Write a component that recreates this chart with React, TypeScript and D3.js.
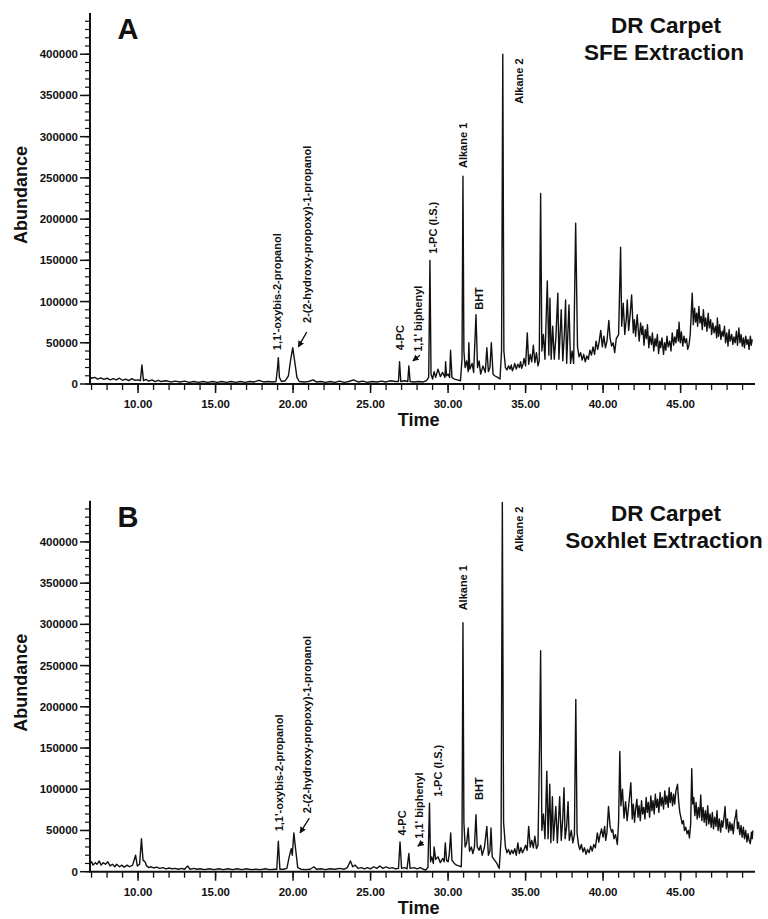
import React from "react";
import * as d3 from "d3";

// ---------- data (time in min, abundance in thousands) ----------
const timeDomain: [number, number] = [6.9, 49.8];
const abundanceMaxK = 450;
const yMajorTicks = [0, 50000, 100000, 150000, 200000, 250000, 300000, 350000, 400000];
const xMajorTicks = [10, 15, 20, 25, 30, 35, 40, 45];

const sfeTrace: [number, number][] = [
  [6.9, 9], [7.0, 7], [7.2, 8], [7.4, 6], [7.6, 7.5], [7.8, 5.5], [8.0, 7], [8.2, 5], [8.4, 6.5], [8.6, 5],
  [8.8, 7], [9.0, 4.5], [9.2, 6], [9.4, 4], [9.6, 6.5], [9.8, 4.5], [10.0, 5], [10.15, 4], [10.25, 23], [10.35, 4],
  [10.5, 5.5], [10.7, 3.5], [10.9, 5], [11.1, 3], [11.3, 4.5], [11.5, 3], [11.8, 4], [12.1, 2.5], [12.4, 3.5], [12.7, 2.5],
  [13.0, 3.5], [13.3, 2], [13.6, 3], [13.9, 2], [14.2, 3], [14.5, 2], [14.8, 3], [15.1, 2], [15.4, 3], [15.7, 2],
  [16.0, 3], [16.3, 2], [16.6, 3], [16.9, 2], [17.2, 3], [17.5, 2.5], [17.8, 4.5], [18.1, 2.5], [18.4, 3], [18.7, 2.5],
  [18.9, 3], [19.0, 20], [19.05, 32], [19.12, 8], [19.25, 3], [19.5, 4], [19.7, 10], [19.85, 30], [19.98, 44], [20.1, 28],
  [20.25, 8], [20.4, 3], [20.7, 2.5], [21.0, 3], [21.3, 5], [21.5, 2.5], [21.8, 3], [22.1, 2], [22.4, 3], [22.7, 2],
  [23.0, 3.5], [23.3, 2], [23.6, 3], [23.9, 5], [24.2, 2.5], [24.5, 3.5], [24.8, 2], [25.1, 3], [25.4, 2.5], [25.7, 3.5],
  [26.0, 2.5], [26.3, 4], [26.6, 3], [26.8, 3], [26.87, 27], [26.95, 3], [27.2, 4], [27.4, 3], [27.47, 22], [27.55, 3],
  [27.8, 2.5], [28.1, 3], [28.4, 2.5], [28.6, 4], [28.75, 8], [28.83, 150], [28.9, 12], [29.0, 6], [29.1, 15], [29.2, 8],
  [29.35, 18], [29.5, 9], [29.65, 14], [29.8, 8], [29.84, 27], [29.9, 10], [30.0, 12], [30.1, 8], [30.16, 41], [30.25, 8],
  [30.4, 6], [30.6, 5], [30.8, 4], [30.9, 30], [30.96, 252], [31.02, 40], [31.1, 20], [31.2, 28], [31.3, 15], [31.34, 50],
  [31.4, 18], [31.55, 25], [31.65, 14], [31.8, 84], [31.9, 20], [32.0, 28], [32.1, 12], [32.25, 22], [32.4, 14], [32.5, 44],
  [32.6, 15], [32.7, 20], [32.79, 50], [32.9, 12], [33.0, 10], [33.2, 8], [33.35, 6], [33.45, 40], [33.53, 400], [33.6, 40],
  [33.7, 20], [33.8, 17], [33.9, 22], [34.0, 18], [34.08, 23], [34.15, 16], [34.25, 21], [34.3, 25], [34.4, 18], [34.5, 24],
  [34.6, 20], [34.68, 27], [34.75, 19], [34.85, 25], [34.9, 31], [35.0, 22], [35.11, 62], [35.2, 24], [35.3, 36], [35.4, 27],
  [35.5, 47], [35.6, 26], [35.7, 38], [35.8, 22], [35.88, 28], [35.97, 231], [36.05, 40], [36.15, 60], [36.25, 30], [36.4, 125],
  [36.5, 35], [36.57, 104], [36.65, 30], [36.75, 70], [36.85, 30], [36.95, 55], [37.08, 110], [37.15, 30], [37.3, 90], [37.4, 28],
  [37.5, 60], [37.58, 102], [37.65, 25], [37.8, 96], [37.9, 25], [38.0, 40], [38.1, 25], [38.23, 195], [38.35, 45], [38.45, 33],
  [38.55, 38], [38.65, 29], [38.75, 36], [38.85, 27], [38.95, 34], [39.05, 30], [39.15, 41], [39.25, 35], [39.35, 45], [39.45, 36],
  [39.55, 52], [39.65, 42], [39.72, 48], [39.85, 65], [39.95, 45], [40.05, 58], [40.15, 44], [40.25, 52], [40.37, 77], [40.45, 56],
  [40.55, 46], [40.65, 50], [40.75, 38], [40.85, 55], [41.0, 60], [41.13, 166], [41.2, 70], [41.3, 98], [41.4, 60], [41.5, 80],
  [41.56, 102], [41.65, 65], [41.75, 85], [41.84, 108], [41.95, 62], [42.02, 78], [42.1, 58], [42.2, 84], [42.27, 66], [42.33, 52],
  [42.42, 74], [42.5, 60], [42.56, 70], [42.64, 47], [42.72, 66], [42.8, 55], [42.86, 72], [42.95, 44], [43.02, 58], [43.12, 48],
  [43.18, 62], [43.27, 40], [43.35, 55], [43.42, 46], [43.5, 60], [43.58, 37], [43.66, 52], [43.72, 44], [43.8, 56], [43.9, 36],
  [43.97, 50], [44.05, 41], [44.12, 58], [44.2, 45], [44.3, 52], [44.38, 40], [44.46, 62], [44.55, 47], [44.62, 57], [44.7, 50],
  [44.78, 66], [44.86, 52], [44.9, 75], [44.98, 50], [45.05, 63], [45.14, 46], [45.22, 58], [45.3, 50], [45.38, 55], [45.46, 42],
  [45.55, 48], [45.62, 60], [45.75, 110], [45.82, 72], [45.9, 92], [45.97, 75], [46.04, 86], [46.1, 70], [46.18, 94], [46.25, 74],
  [46.33, 82], [46.4, 66], [46.47, 90], [46.55, 70], [46.62, 80], [46.7, 64], [46.78, 86], [46.85, 68], [46.94, 78], [47.0, 60],
  [47.08, 74], [47.16, 62], [47.25, 70], [47.33, 56], [47.37, 80], [47.45, 58], [47.52, 72], [47.6, 54], [47.68, 64], [47.75, 58],
  [47.83, 70], [47.9, 50], [47.98, 62], [48.06, 46], [48.13, 66], [48.2, 52], [48.3, 60], [48.37, 48], [48.44, 57], [48.52, 50],
  [48.6, 64], [48.67, 47], [48.76, 68], [48.83, 50], [48.9, 60], [48.98, 46], [49.05, 56], [49.12, 44], [49.2, 58], [49.28, 48],
  [49.35, 54], [49.42, 42], [49.5, 58], [49.56, 47], [49.62, 54],
];

const soxTrace: [number, number][] = [
  [6.9, 10], [7.0, 12], [7.1, 8], [7.25, 11], [7.35, 9], [7.5, 13], [7.62, 8], [7.75, 11], [7.9, 9], [8.05, 12],
  [8.2, 7], [8.35, 9], [8.5, 6], [8.62, 9], [8.8, 6], [8.95, 8], [9.1, 5.5], [9.3, 8], [9.45, 6], [9.65, 8],
  [9.84, 20], [9.95, 7], [10.1, 9], [10.22, 40], [10.32, 14], [10.45, 12], [10.55, 7], [10.7, 5], [10.85, 6], [11.0, 4.5],
  [11.2, 5.5], [11.4, 4], [11.6, 5], [11.8, 3.5], [12.0, 4.5], [12.2, 3.5], [12.4, 4], [12.6, 3], [12.8, 4], [13.0, 3],
  [13.2, 7], [13.35, 3], [13.6, 4], [13.8, 3], [14.0, 3.5], [14.3, 2.5], [14.6, 3.5], [14.9, 2.5], [15.2, 3.5], [15.5, 2.5],
  [15.8, 3.5], [16.1, 2.5], [16.4, 3.5], [16.7, 2.5], [17.0, 3.5], [17.3, 2.5], [17.6, 3], [17.9, 2.5], [18.2, 3.5], [18.5, 2.5],
  [18.8, 3], [18.95, 3], [19.05, 37], [19.15, 3], [19.4, 3], [19.6, 4], [19.75, 18], [19.88, 28], [19.95, 20], [20.05, 47],
  [20.15, 30], [20.3, 5], [20.5, 3], [20.8, 2.5], [21.1, 3], [21.35, 6], [21.5, 3], [21.8, 3.5], [22.1, 2.5], [22.4, 3.5],
  [22.7, 3], [23.0, 4], [23.3, 3], [23.5, 5], [23.7, 13], [23.85, 6], [24.0, 8], [24.2, 4], [24.4, 5], [24.6, 3.5],
  [24.8, 5], [25.0, 3.5], [25.2, 6], [25.4, 4], [25.6, 7], [25.8, 4], [26.0, 6], [26.2, 4], [26.4, 5], [26.6, 3.5],
  [26.8, 4], [26.9, 36], [27.0, 4], [27.2, 5], [27.35, 3.5], [27.47, 22], [27.55, 4], [27.8, 5], [28.0, 3.5], [28.2, 5],
  [28.4, 3], [28.55, 2], [28.7, 5], [28.8, 83], [28.87, 12], [28.95, 18], [29.05, 10], [29.1, 30], [29.2, 15], [29.35, 18],
  [29.5, 11], [29.65, 16], [29.75, 12], [29.82, 35], [29.9, 14], [30.0, 12], [30.08, 22], [30.17, 47], [30.25, 14], [30.4, 10],
  [30.55, 8], [30.7, 7], [30.85, 6], [30.9, 40], [30.96, 302], [31.02, 60], [31.1, 30], [31.2, 35], [31.3, 53], [31.38, 25],
  [31.5, 30], [31.6, 22], [31.7, 30], [31.8, 69], [31.88, 30], [32.0, 26], [32.1, 32], [32.2, 20], [32.35, 30], [32.5, 55],
  [32.6, 20], [32.7, 25], [32.77, 53], [32.85, 18], [33.0, 14], [33.15, 10], [33.3, 4], [33.42, 40], [33.5, 448], [33.58, 60],
  [33.7, 30], [33.8, 23], [33.9, 27], [34.0, 21], [34.1, 26], [34.2, 22], [34.3, 28], [34.4, 20], [34.5, 35], [34.6, 22],
  [34.7, 29], [34.8, 23], [34.9, 27], [35.0, 32], [35.1, 26], [35.2, 55], [35.3, 30], [35.4, 38], [35.5, 29], [35.6, 43],
  [35.7, 28], [35.8, 32], [35.9, 150], [35.97, 268], [36.05, 50], [36.15, 70], [36.25, 40], [36.37, 122], [36.45, 40], [36.56, 106],
  [36.63, 35], [36.73, 91], [36.8, 38], [36.88, 60], [36.95, 79], [37.05, 35], [37.12, 60], [37.2, 91], [37.3, 38], [37.4, 65],
  [37.48, 102], [37.55, 40], [37.65, 55], [37.74, 85], [37.82, 38], [37.95, 50], [38.05, 35], [38.15, 45], [38.24, 209], [38.32, 47],
  [38.42, 32], [38.5, 27], [38.6, 33], [38.7, 24], [38.8, 29], [38.9, 21], [39.0, 27], [39.1, 23], [39.2, 31], [39.3, 25],
  [39.4, 33], [39.5, 29], [39.63, 47], [39.72, 36], [39.8, 44], [39.9, 52], [40.0, 42], [40.1, 55], [40.17, 38], [40.25, 48],
  [40.35, 79], [40.45, 55], [40.55, 48], [40.62, 51], [40.7, 40], [40.8, 45], [40.92, 33], [41.0, 60], [41.08, 146], [41.15, 80],
  [41.25, 100], [41.35, 65], [41.45, 85], [41.55, 62], [41.65, 80], [41.79, 108], [41.88, 64], [41.95, 82], [42.03, 60], [42.1, 76],
  [42.18, 88], [42.25, 66], [42.32, 80], [42.4, 62], [42.48, 86], [42.55, 70], [42.62, 78], [42.7, 64], [42.78, 90], [42.85, 72],
  [42.92, 84], [43.0, 66], [43.08, 92], [43.15, 74], [43.22, 86], [43.3, 70], [43.37, 94], [43.45, 78], [43.52, 88], [43.6, 72],
  [43.68, 96], [43.75, 80], [43.82, 90], [43.9, 76], [43.98, 98], [44.05, 82], [44.12, 92], [44.2, 78], [44.26, 102], [44.33, 84],
  [44.4, 96], [44.48, 80], [44.55, 94], [44.62, 82], [44.7, 98], [44.8, 106], [44.88, 84], [44.95, 72], [45.02, 66], [45.1, 58],
  [45.18, 62], [45.25, 50], [45.33, 54], [45.42, 46], [45.5, 50], [45.57, 41], [45.65, 58], [45.72, 125], [45.78, 82], [45.85, 90],
  [45.92, 68], [46.0, 84], [46.07, 64], [46.15, 78], [46.22, 66], [46.3, 93], [46.37, 62], [46.45, 78], [46.52, 60], [46.6, 74],
  [46.67, 56], [46.75, 80], [46.82, 58], [46.9, 70], [46.97, 54], [47.05, 72], [47.12, 52], [47.2, 66], [47.28, 55], [47.35, 74],
  [47.42, 50], [47.5, 64], [47.58, 48], [47.65, 62], [47.72, 54], [47.8, 66], [47.87, 79], [47.94, 52], [48.02, 64], [48.1, 48],
  [48.18, 60], [48.25, 50], [48.32, 58], [48.4, 46], [48.48, 62], [48.55, 68], [48.6, 75], [48.67, 52], [48.74, 60], [48.82, 45],
  [48.9, 56], [48.97, 42], [49.05, 54], [49.12, 40], [49.2, 50], [49.28, 36], [49.35, 46], [49.42, 38], [49.5, 34], [49.57, 48],
  [49.62, 40], [49.66, 50],
];

// peak labels: text, retention time of label column, abundance (k) where text starts
type Label = { text: string; t: number; v: number };
const sfeLabels: Label[] = [
  { text: "1,1'-oxybis-2-propanol", t: 18.98, v: 41 },
  { text: "2-(2-hydroxy-propoxy)-1-propanol", t: 20.92, v: 74 },
  { text: "4-PC", t: 26.9, v: 41 },
  { text: "1,1' biphenyl", t: 28.08, v: 39 },
  { text: "1-PC (I.S.)", t: 29.01, v: 158 },
  { text: "Alkane 1", t: 30.98, v: 262 },
  { text: "BHT", t: 32.02, v: 90 },
  { text: "Alkane 2", t: 34.6, v: 340 },
];
const soxLabels: Label[] = [
  { text: "1,1'-oxybis-2-propanol", t: 19.11, v: 49 },
  { text: "2-(2-hydroxy-propoxy)-1-propanol", t: 20.92, v: 71 },
  { text: "4-PC", t: 27.01, v: 44 },
  { text: "1,1' biphenyl", t: 28.15, v: 40 },
  { text: "1-PC (I.S.)", t: 29.37, v: 91 },
  { text: "Alkane 1", t: 30.98, v: 317 },
  { text: "BHT", t: 32.02, v: 87 },
  { text: "Alkane 2", t: 34.6, v: 388 },
];
type Arrow = { t1: number; v1: number; t2: number; v2: number };
const sfeArrows: Arrow[] = [
  { t1: 20.88, v1: 63, t2: 20.34, v2: 45 },
  { t1: 28.18, v1: 35, t2: 27.73, v2: 28 },
];
const soxArrows: Arrow[] = [
  { t1: 21.05, v1: 65, t2: 20.45, v2: 47 },
  { t1: 28.4, v1: 36, t2: 28.05, v2: 31 },
];

const FONT = "'Liberation Sans', Arial, Helvetica, sans-serif";

type PanelProps = {
  offsetY: number;
  letter: string;
  title1: string;
  title2: string;
  trace: [number, number][];
  labels: Label[];
  arrows: Arrow[];
  id: string;
};

function Panel({ offsetY, letter, title1, title2, trace, labels, arrows, id }: PanelProps) {
  const x = d3.scaleLinear().domain(timeDomain).range([90, 755]);
  const y = d3.scaleLinear().domain([0, abundanceMaxK * 1000]).range([384, 13]);
  const line = d3
    .line<[number, number]>()
    .x((d) => x(d[0]))
    .y((d) => y(d[1] * 1000));
  const minorY = d3.range(0, 440001, 10000);
  const minorX = d3.range(7, 50, 1);
  return (
    <g transform={`translate(0,${offsetY})`}>
      <defs>
        <marker id={`ah-${id}`} viewBox="0 0 10 10" refX="9" refY="5" markerWidth="5" markerHeight="5" orient="auto">
          <path d="M0,0 L10,5 L0,10 z" fill="#111" />
        </marker>
      </defs>
      {/* trace */}
      <path d={line(trace) || ""} fill="none" stroke="#111" strokeWidth={1.4} strokeLinejoin="round" />
      {/* y axis */}
      <line x1={90} x2={90} y1={y(0)} y2={13} stroke="#111" strokeWidth={2} />
      {minorY.map((v) => (
        <line key={`ym${v}`} x1={85} x2={90} y1={y(v)} y2={y(v)} stroke="#111" strokeWidth={1.2} />
      ))}
      {yMajorTicks.map((v) => (
        <g key={`yt${v}`}>
          <line x1={80} x2={90} y1={y(v)} y2={y(v)} stroke="#111" strokeWidth={1.5} />
          <text x={78} y={y(v)} dy="0.35em" textAnchor="end" fontSize={11.5} fontWeight="bold" fontFamily={FONT} fill="#111">
            {v}
          </text>
        </g>
      ))}
      {/* x axis */}
      <line x1={89} x2={755} y1={y(0)} y2={y(0)} stroke="#111" strokeWidth={2} />
      {minorX.map((t) => (
        <line key={`xm${t}`} x1={x(t)} x2={x(t)} y1={y(0)} y2={y(0) + 6} stroke="#111" strokeWidth={1.3} />
      ))}
      {xMajorTicks.map((t) => (
        <g key={`xt${t}`}>
          <line x1={x(t)} x2={x(t)} y1={y(0)} y2={y(0) + 9} stroke="#111" strokeWidth={1.5} />
          <text x={x(t)} y={y(0) + 20} dy="0.35em" textAnchor="middle" fontSize={11.5} fontWeight="bold" fontFamily={FONT} fill="#111">
            {d3.format(".2f")(t)}
          </text>
        </g>
      ))}
      {/* axis titles */}
      <text x={x(28.1)} y={y(0) + 36} dy="0.35em" textAnchor="middle" fontSize={18} fontWeight="bold" fontFamily={FONT} fill="#111">
        Time
      </text>
      <text transform={`translate(21,195) rotate(-90)`} textAnchor="middle" dy="0.35em" fontSize={18} fontWeight="bold" fontFamily={FONT} fill="#111">
        Abundance
      </text>
      {/* panel letter and title */}
      <text x={128} y={39} textAnchor="middle" fontSize={29} fontWeight="bold" fontFamily={FONT} fill="#111">
        {letter}
      </text>
      <text x={666} y={33} textAnchor="middle" fontSize={22.5} fontWeight="bold" fontFamily={FONT} fill="#111">
        {title1}
      </text>
      <text x={664} y={60} textAnchor="middle" fontSize={22.5} fontWeight="bold" fontFamily={FONT} fill="#111">
        {title2}
      </text>
      {/* peak labels */}
      {labels.map((l) => (
        <text
          key={l.text}
          transform={`translate(${x(l.t)},${y(l.v * 1000)}) rotate(-90)`}
          dominantBaseline="central"
          fontSize={11}
          fontWeight="bold"
          fontFamily={FONT}
          fill="#111"
        >
          {l.text}
        </text>
      ))}
      {arrows.map((a, i) => (
        <line
          key={`ar${i}`}
          x1={x(a.t1)}
          y1={y(a.v1 * 1000)}
          x2={x(a.t2)}
          y2={y(a.v2 * 1000)}
          stroke="#111"
          strokeWidth={1.3}
          markerEnd={`url(#ah-${id})`}
        />
      ))}
    </g>
  );
}

export default function App() {
  return (
    <svg width={768} height={919} style={{ position: "absolute", left: 0, top: 0, background: "#fff" }}>
      <rect width={768} height={919} fill="#fff" />
      <Panel offsetY={0} letter="A" title1="DR Carpet" title2="SFE Extraction" trace={sfeTrace} labels={sfeLabels} arrows={sfeArrows} id="a" />
      <Panel offsetY={487.7} letter="B" title1="DR Carpet" title2="Soxhlet Extraction" trace={soxTrace} labels={soxLabels} arrows={soxArrows} id="b" />
    </svg>
  );
}
